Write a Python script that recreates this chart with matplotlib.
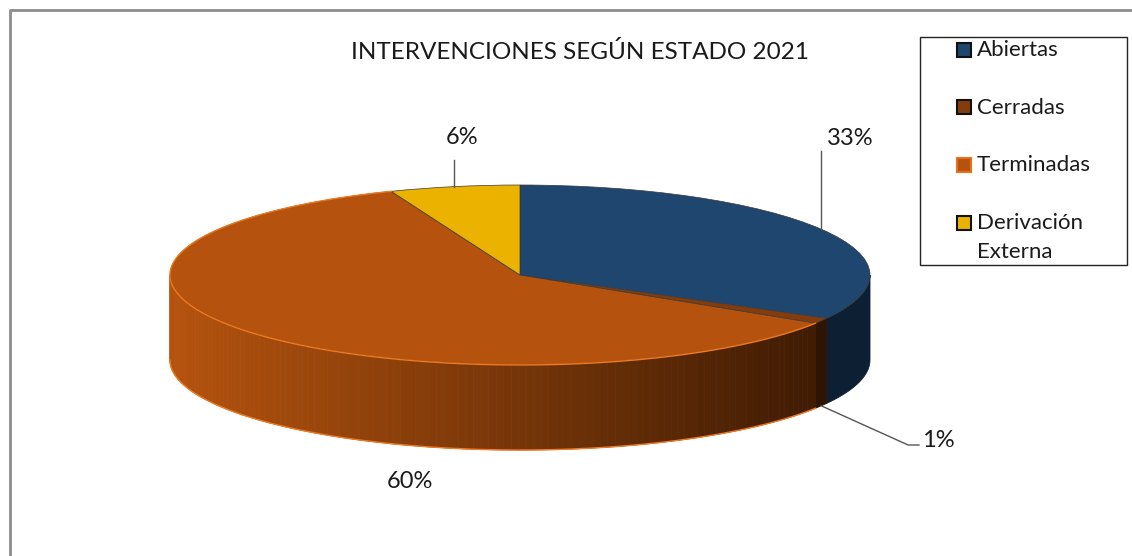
import numpy as np
import matplotlib.pyplot as plt
from matplotlib.patches import Rectangle
from matplotlib.lines import Line2D
from matplotlib.colors import to_rgb

plt.rcParams['font.family'] = ['Lato', 'DejaVu Sans']

categories = ["Abiertas", "Cerradas", "Terminadas", "Derivación Externa"]
legend_labels = ["Abiertas", "Cerradas", "Terminadas", "Derivación\nExterna"]
values = [33, 1, 60, 6]
pct_labels = ["33%", "1%", "60%", "6%"]
top_colors = ["#1e466e", "#843c0c", "#b5530e", "#ebb200"]
legend_edges = ["#111111", "#111111", "#e8701a", "#111111"]
side_colors = ["#0c1f33", "#2e1503", None, "#9a7400"]

W, H = 1132, 556
fig = plt.figure(figsize=(W / 100, H / 100), dpi=100)


def fx(x):
    return x / W


def fy(y):
    return 1 - y / H


# pie geometry in pixels (centre, radii, depth)
cx, cy = 520, 275
rx, ry, depth_px = 350, 90, 85
ax = fig.add_axes([0, 0, 1, 1])
depth = depth_px / ry

wedges, _ = ax.pie(values, colors=top_colors, startangle=90, counterclock=False,
                   radius=1, center=(0, 0),
                   wedgeprops=dict(edgecolor="#3a3a3a", linewidth=0.5, zorder=3))
ax.set_aspect('auto')
ax.set_xlim(-cx / rx, (W - cx) / rx)
ax.set_ylim(-(H - cy) / ry, cy / ry)
ax.axis('off')

# angles (clockwise from top, degrees)
fr = np.array(values) / sum(values) * 360
starts = np.concatenate([[0], np.cumsum(fr)[:-1]])
ends = np.cumsum(fr)

light = np.array(to_rgb("#b5530e"))
dark = np.array(to_rgb("#3c1a03"))

# side walls (front half only: 90..270 deg)
for i in range(len(values)):
    a, b = max(starts[i], 90), min(ends[i], 270)
    if a >= b:
        continue
    n = 120 if side_colors[i] is None else 1
    edges = np.linspace(a, b, n + 1)
    for s, e in zip(edges[:-1], edges[1:]):
        th = np.radians(np.linspace(s, e, 20))
        xs = np.sin(th)
        ys = np.cos(th)
        px = np.concatenate([xs, xs[::-1]])
        py = np.concatenate([ys, ys[::-1] - depth])
        if side_colors[i] is None:
            t = np.clip((xs.mean() + 1) / 1.9, 0, 1)
            col = light * (1 - t) + dark * t
        else:
            col = side_colors[i]
        ax.fill(px, py, color=col, lw=0.6, zorder=2)

# orange rim on Terminadas
th = np.radians(np.linspace(starts[2], ends[2], 200))
ax.plot(np.sin(th), np.cos(th), color="#f07a20", lw=1, zorder=4)
th = np.radians(np.linspace(max(starts[2], 90), 270, 200))
ax.plot(np.sin(th), np.cos(th) - depth, color="#f07a20", lw=1, zorder=4)

# data labels
mids = np.radians((starts + ends) / 2)
txt = "#1a1a1a"
lab_kw = dict(fontsize=17, color=txt, ha='center', va='center', zorder=5)
lc = "#555555"
# 33%
x0, y0 = np.sin(mids[0]), np.cos(mids[0])
ax.plot([x0, x0], [y0, 1.38], color=lc, lw=1, zorder=5)
ax.text(0.943, 1.52, pct_labels[0], **lab_kw)
# 6%
x0, y0 = np.sin(mids[3]), np.cos(mids[3])
ax.plot([x0, x0], [y0, 1.28], color=lc, lw=1, zorder=5)
ax.text(-0.166, 1.53, pct_labels[3], **lab_kw)
# 1%
x0, y0 = np.sin(mids[1]), np.cos(mids[1]) - depth
ax.plot([x0, 1.109, 1.14], [y0, -1.889, -1.889], color=lc, lw=1, zorder=5)
ax.text(1.15, -1.84, pct_labels[1], fontsize=17, color=txt, ha='left', va='center')
# 60%
ax.text(-0.314, -2.29, pct_labels[2], **lab_kw)

# title
fig.text(fx(580), fy(52), "INTERVENCIONES SEGÚN ESTADO 2021", fontsize=17.5,
         color=txt, ha='center', va='center')

# legend (drawn by hand to match the boxed layout)
fig.patches.append(Rectangle((fx(920), fy(265)), fx(1127) - fx(920), fy(37) - fy(265),
                             transform=fig.transFigure, fill=False, edgecolor="#222222", lw=1))
for i, lab in enumerate(legend_labels):
    yc = 50 + 57.5 * i
    fig.patches.append(Rectangle((fx(957), fy(yc + 7)), fx(14), 14 / H,
                                 transform=fig.transFigure, facecolor=top_colors[i],
                                 edgecolor=legend_edges[i], lw=1.5))
    for k, line in enumerate(lab.split("\n")):
        fig.text(fx(977), fy(yc + 29 * k), line, fontsize=16, color=txt,
                 ha='left', va='center')

# outer frame (left and top edges visible)
fig.lines.append(Line2D([fx(10), fx(10), 1], [0, fy(10), fy(10)], transform=fig.transFigure,
                        color="#8c8c8c", lw=2))

fig.savefig("out.png", dpi=100)
